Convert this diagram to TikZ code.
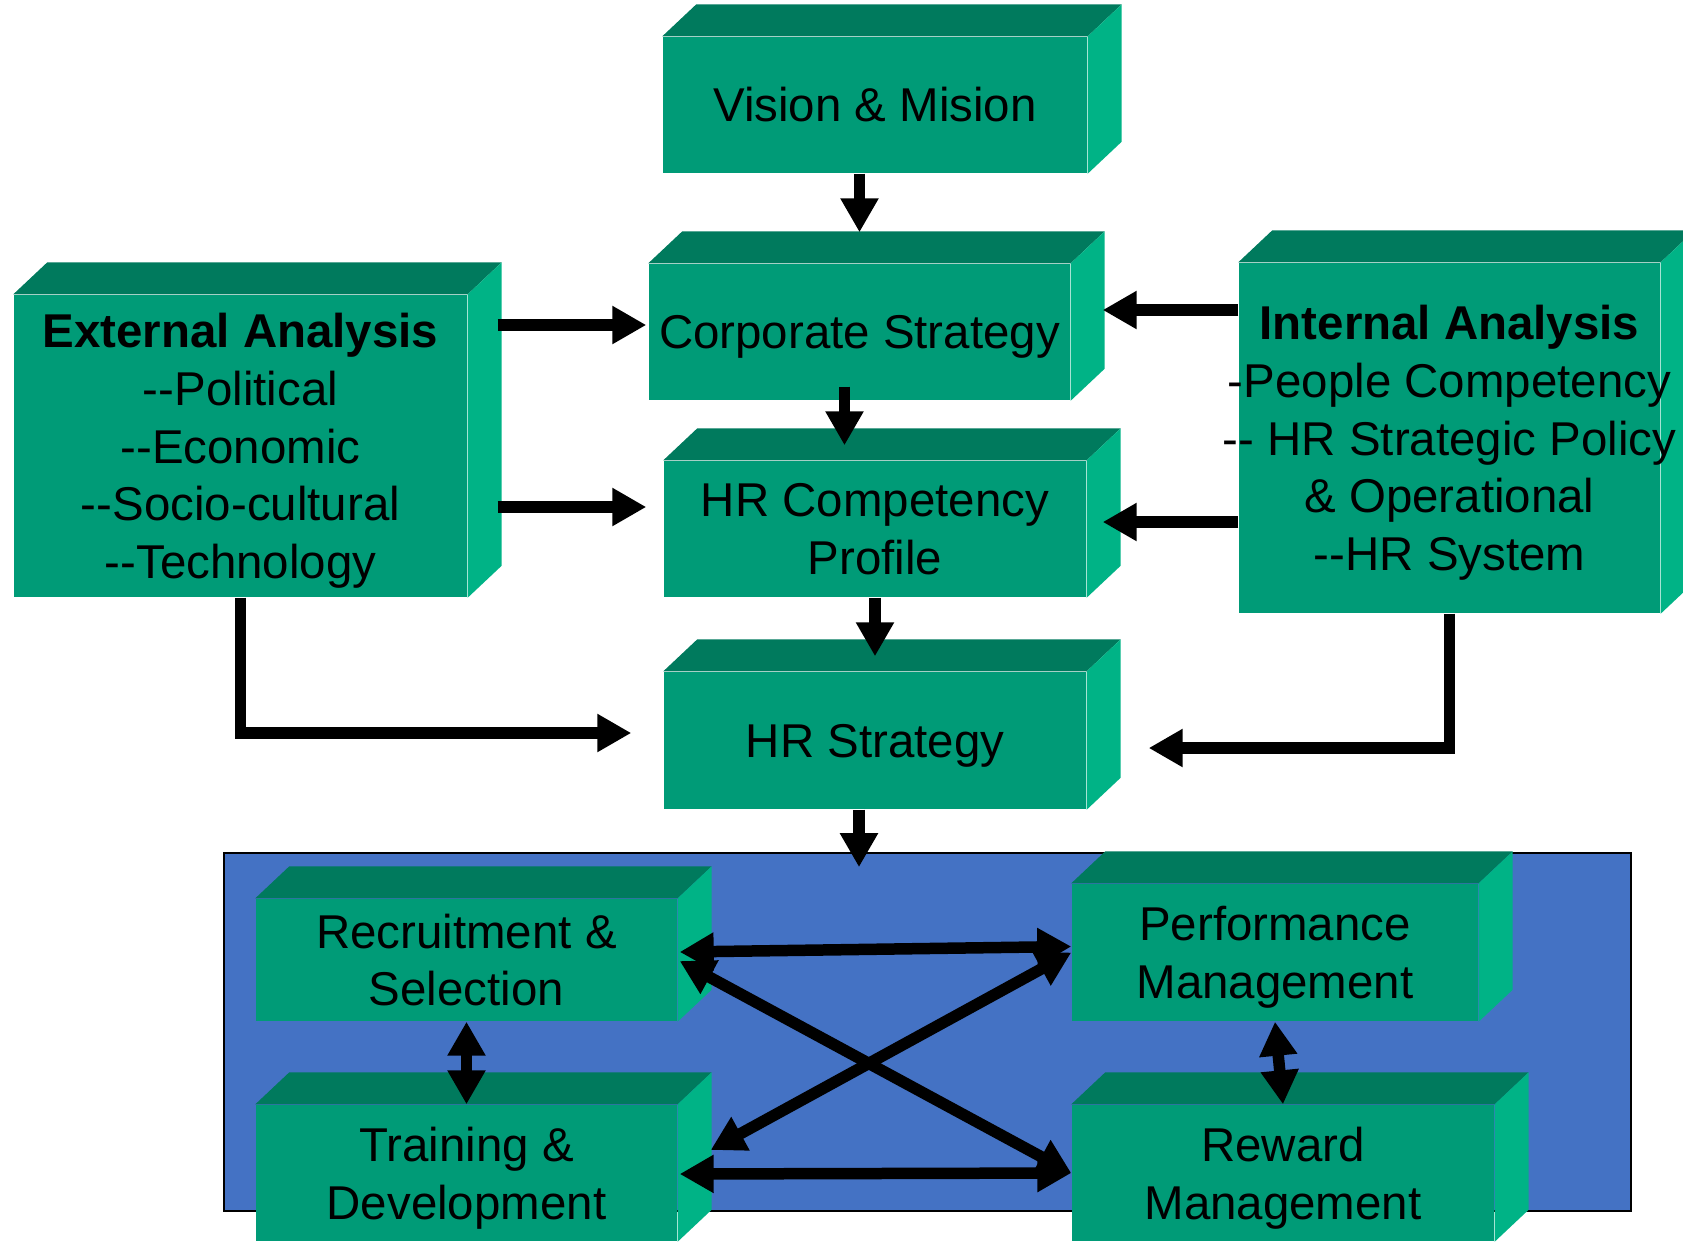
\documentclass[tikz,border=0pt]{standalone}
\usepackage{fontspec}
\usepackage{tikz}
\usetikzlibrary{arrows.meta,calc}
\newfontfamily\arial{Liberation Sans}
\definecolor{boxtop}{RGB}{0,122,93}
\definecolor{boxfront}{RGB}{0,155,119}
\definecolor{boxside}{RGB}{0,179,134}
\definecolor{hrmblue}{RGB}{68,114,196}

\tikzset{
  block/.style={fill=boxfront, inner sep=0pt, align=center,
    font=\arial\fontsize{13.5}{16.4}\selectfont},
  arr/.style={line width=1.15mm, -{Triangle[length=3.4mm,width=3.6mm]}},
  dblarr/.style={line width=1.15mm, {Triangle[length=3.4mm,width=3.6mm]}-{Triangle[length=3.4mm,width=3.6mm]}},
}
% top and side faces of a block
\newcommand{\boxfaces}[1]{%
  \fill[boxtop] (#1.north west) -- ++(34,-32) -- ($(#1.north east)+(34,-32)$) -- (#1.north east) -- cycle;
  \fill[boxside] (#1.north east) -- ++(34,-32) -- ($(#1.south east)+(34,-32)$) -- (#1.south east) -- cycle;}
% last line without its descenders, so the capitals sit in the middle
\newcommand{\lastline}[1]{\raisebox{0pt}[\height][0pt]{#1}}

\begin{document}
\begin{tikzpicture}[x=0.1mm,y=-0.1mm]
  \useasboundingbox (0,0) rectangle (1683,1242);
  \clip (0,0) rectangle (1683,1242);
  \node[fill=hrmblue, draw=black, line width=0.5pt, minimum width=140.7mm, minimum height=35.8mm, inner sep=0pt] (hrm) at (927.5,1032) {};

  \node[block, minimum width=42.4mm, minimum height=13.6mm] (vision) at (875,105) {Vision \& Mision};
  \node[block, minimum width=42.1mm, minimum height=13.6mm] (corp) at (859.5,332) {\lastline{Corporate Strategy}};
  \node[block, minimum width=42.2mm, minimum height=13.6mm] (comp) at (875,529) {HR Competency\\Profile};
  \node[block, minimum width=42.2mm, minimum height=13.7mm] (hrs) at (875,740.5) {\lastline{HR Strategy}};
  \node[block, minimum width=45.3mm, minimum height=30.2mm] (ext) at (240.5,446) {\textbf{External Analysis}\\--Political\\--Economic\\--Socio-cultural\\\lastline{--Technology}};
  \node[block, minimum width=42.1mm, minimum height=35mm] (int) at (1449.5,438) {};
  \node[block, minimum width=42.1mm, minimum height=12.2mm] (rec) at (466.5,960) {Recruitment \&\\Selection};
  \node[block, minimum width=42.1mm, minimum height=13.6mm] (train) at (466.5,1173) {Training \&\\\lastline{Development}};
  \node[block, minimum width=40.6mm, minimum height=13.7mm] (perf) at (1275,952.5) {Performance\\\lastline{Management}};
  \node[block, minimum width=42.2mm, minimum height=13.6mm] (rew) at (1283,1173) {Reward\\\lastline{Management}};

  \foreach \n in {vision,corp,comp,hrs,ext,int,rec,train,perf,rew} {\boxfaces{\n}}

  \node[block, fill=none] (inttext) at (int) {\textbf{Internal Analysis}\\-People Competency\\-- HR Strategic Policy\\\& Operational\\\lastline{--HR System}};

  % strategy chain
  \draw[arr] (corp.north |- vision.south) -- ($(corp.north)+(0,-31)$);
  \draw[arr] ($(corp.south)+(-15,-14)$) -- ($(corp.south |- comp.north)+(-15,-15)$);
  \draw[arr] (comp.south) -- ($(hrs.north)+(0,-15)$);
  \draw[arr] ($(hrs.south)+(-16,0)$) -- ($(hrs.south |- hrm.north)+(-16,15)$);
  % external
  \draw[arr] ($(ext.east |- corp.west)+(30,-7)$) -- ($(corp.west)+(-2,-7)$);
  \draw[arr] ($(ext.east |- comp.west)+(30,-22)$) -- ($(comp.west)+(-17,-22)$);
  \draw[arr] (ext.south) |- ($(hrs.west)+(-32,-7.5)$);
  % internal
  \draw[arr] ($(int.west |- corp.east)+(0,-22)$) -- ($(corp.east)+(32,-22)$);
  \draw[arr] ($(int.west |- comp.east)+(0,-7)$) -- ($(comp.east)+(16,-7)$);
  \draw[arr] (int.south) |- ($(hrs.east)+(62,7.5)$);
  % hr functions
  \draw[dblarr] (rec.south) -- (train.north);
  \draw[dblarr] (perf.south) -- (rew.north);
  \draw[dblarr] ($(rec.east)+(2,-8)$) -- ($(perf.west)+(0,-6)$);
  \draw[dblarr] ($(train.east)+(2,1)$) -- (rew.west);
  \draw[dblarr] ($(rec.east)+(2,1)$) -- (rew.west);
  \draw[dblarr] ($(train.east)+(33,-23)$) -- (perf.west);
\end{tikzpicture}
\end{document}
